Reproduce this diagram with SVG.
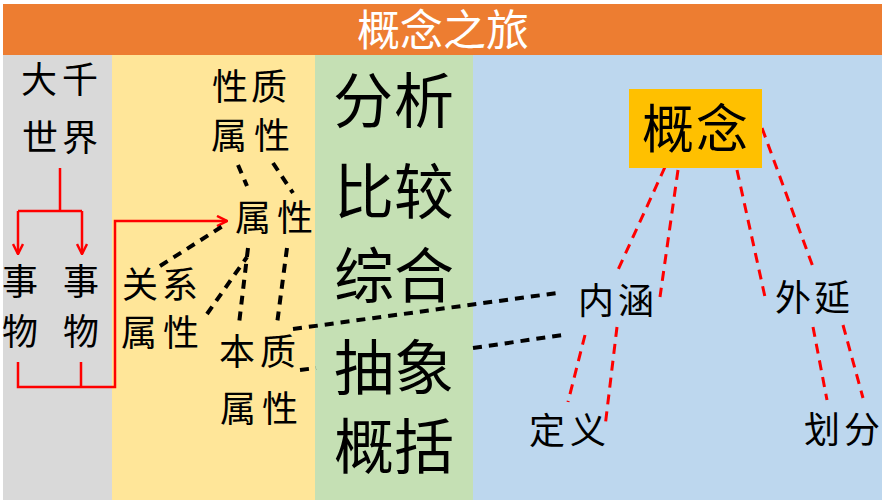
<svg xmlns="http://www.w3.org/2000/svg" width="888" height="500" viewBox="0 0 888 500">
<defs>
<style>
.t{font-family:"Noto Sans CJK SC","Noto Sans",sans-serif;fill:#000;text-anchor:middle}
.s{font-size:36px}
.g{font-size:60px}
.bd{fill:none;stroke:#000;stroke-width:4;stroke-dasharray:9 7}
.rd{fill:none;stroke:#FF0000;stroke-width:3;stroke-dasharray:10 7}
.rl{fill:none;stroke:#FF0000;stroke-width:2.5}
</style>
<marker id="ar" viewBox="0 0 10 10" refX="9" refY="5" markerWidth="5" markerHeight="5" orient="auto" markerUnits="strokeWidth">
<path d="M1 1 L9 5 L1 9" fill="none" stroke="#FF0000" stroke-width="2"/>
</marker>
</defs>
<rect width="888" height="500" fill="#FFFFFF"/>
<g id="panels">
<rect x="3" y="55" width="109" height="445" fill="#D9D9D9"/>
<rect x="112" y="55" width="203" height="445" fill="#FFE699"/>
<rect x="315" y="55" width="158" height="445" fill="#C5E0B4"/>
<rect x="473" y="55" width="409" height="445" fill="#BDD7EE"/>
</g>
<g id="title">
<rect x="3" y="4" width="879" height="51" fill="#ED7D31"/>
<text x="443" y="46" font-size="43" style="font-family:'Noto Sans CJK SC',sans-serif;fill:#FFFFFF;text-anchor:middle">概念之旅</text>
</g>
<g id="connectors">
<path class="rl" d="M60 168 V211 M18 211 H82"/>
<path class="rl" d="M18 211 V254" marker-end="url(#ar)"/>
<path class="rl" d="M82 211 V254" marker-end="url(#ar)"/>
<path class="rl" d="M18 362 V387 H115 V221 H227" marker-end="url(#ar)"/>
<path class="rl" d="M81 362 V387"/>
<path class="bd" d="M238 165 L247 186"/>
<path class="bd" d="M273 163 L293 193"/>
<path class="bd" d="M160 266 L226 224"/>
<path class="bd" d="M207 314 L247 257"/>
<path class="bd" d="M248 248 L239 324"/>
<path class="bd" d="M287 248 L277 324"/>
<path class="bd" d="M293 329 L557 293"/>
<path class="bd" d="M300 370 L316 368 M473 348 L563 335"/>
<path class="rd" d="M665 167 L617 272"/>
<path class="rd" d="M678 170 L660 297"/>
<path class="rd" d="M737 170 L765 297"/>
<path class="rd" d="M762 128 L813 267"/>
<path class="rd" d="M585 335 L568 402"/>
<path class="rd" d="M617 327 L605 427"/>
<path class="rd" d="M813 327 L827 400"/>
<path class="rd" d="M843 325 L863 398"/>
</g>
<g id="n-world"><text class="t s" x="39 80" y="93">大千</text><text class="t s" x="40 80" y="151">世界</text></g>
<g id="n-thing1"><text class="t s" x="20" y="295">事</text><text class="t s" x="20" y="345">物</text></g>
<g id="n-thing2"><text class="t s" x="81" y="295">事</text><text class="t s" x="81" y="345">物</text></g>
<g id="n-quality"><text class="t s" x="230 269" y="100">性质</text><text class="t s" x="229 272" y="149">属性</text></g>
<g id="n-attr"><text class="t s" x="253 295" y="231">属性</text></g>
<g id="n-relation"><text class="t s" x="140 180" y="298">关系</text><text class="t s" x="139 181" y="346">属性</text></g>
<g id="n-essence"><text class="t s" x="237 278" y="365">本质</text><text class="t s" x="238 280" y="422">属性</text></g>
<g id="n-methods">
<text class="t g" x="363 424" y="123">分析</text>
<text class="t g" x="364 424" y="214">比较</text>
<text class="t g" x="364 424" y="298">综合</text>
<text class="t g" x="364 424" y="390">抽象</text>
<text class="t g" x="364 424" y="469">概括</text>
</g>
<g id="n-concept"><rect x="629" y="89" width="133" height="79" fill="#FFC000"/><text class="t" font-size="52" x="668 722" y="148">概念</text></g>
<g id="n-intension"><text class="t s" x="596 636" y="314">内涵</text></g>
<g id="n-extension"><text class="t s" x="793 832" y="311">外延</text></g>
<g id="n-definition"><text class="t s" x="547 588" y="444">定义</text></g>
<g id="n-division"><text class="t s" x="822 862" y="443">划分</text></g>
</svg>
